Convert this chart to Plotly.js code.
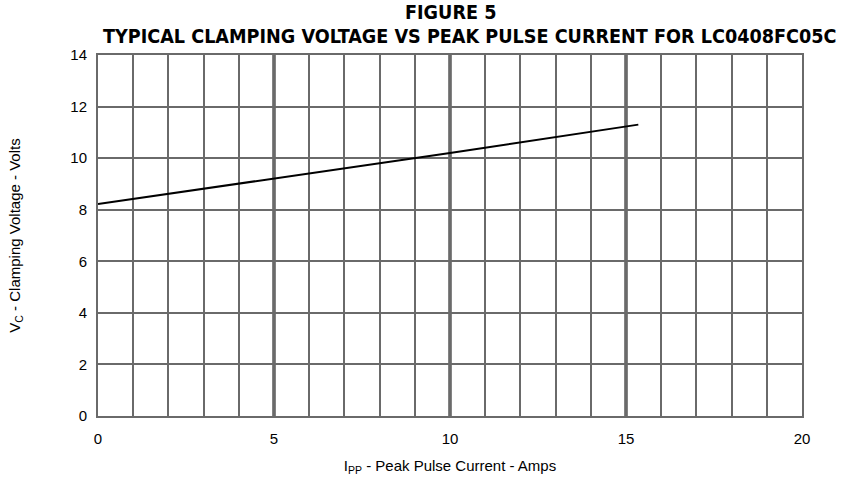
<!DOCTYPE html>
<html><head><meta charset="utf-8">
<script src="https://cdn.plot.ly/plotly-3.0.1.min.js"></script>
<style>html,body{margin:0;padding:0;background:#fff}#c{width:853px;height:481px}</style>
</head><body><div id="c"></div>
<script>
const currentAmps = [0, 5, 10, 15.35];
const clampVolts = [8.22, 9.2, 10.2, 11.3];
const xTicks = [0, 5, 10, 15, 20];
const yTicks = [0, 2, 4, 6, 8, 10, 12, 14];
const majorX = [5, 10, 15];
const titleLines = ['FIGURE 5', 'TYPICAL CLAMPING VOLTAGE VS PEAK PULSE CURRENT FOR LC0408FC05C'];

const shapes = majorX.map(v => ({type:'line', xref:'x', yref:'paper', x0:v, x1:v, y0:0, y1:1, line:{color:'#5a5a5a', width:3.5}, layer:'below'}));
const titleFont = {family:'DejaVu Sans Condensed, Liberation Sans Narrow, Liberation Sans, sans-serif', size:19.6, color:'#000'};

Plotly.newPlot('c', [{
  x: currentAmps, y: clampVolts, type:'scatter', mode:'lines',
  line:{color:'#000', width:2}, hoverinfo:'skip'
}], {
  width:853, height:481,
  margin:{l:98, r:51, t:55, b:65},
  paper_bgcolor:'#fff', plot_bgcolor:'#fff',
  showlegend:false,
  font:{family:'Liberation Sans, Arial, sans-serif', color:'#000', size:15},
  annotations:[
    {text:'<b>'+titleLines[0]+'</b>', xref:'paper', yref:'paper', x:0.5, y:1.0, yshift:56, xanchor:'center', yanchor:'top', showarrow:false, font:titleFont},
    {text:'<b>'+titleLines[1]+'</b>', xref:'paper', yref:'paper', x:0.527, y:1.0, yshift:32, xanchor:'center', yanchor:'top', showarrow:false, font:titleFont}
  ],
  xaxis:{range:[0,20], tickvals:xTicks, ticks:'', showgrid:false,
    minor:{dtick:1, tick0:0, showgrid:true, gridcolor:'#6a6a6a', gridwidth:2, ticks:''},
    showline:true, linecolor:'#6a6a6a', linewidth:2, mirror:true, zeroline:false,
    ticklabelstandoff:8, tickfont:{size:15},
    title:{text:'I<sub>PP</sub> - Peak Pulse Current - Amps', font:{size:15}, standoff:14}},
  yaxis:{range:[0,14], tickvals:yTicks, ticks:'', showgrid:true, gridcolor:'#6a6a6a', gridwidth:2,
    showline:true, linecolor:'#6a6a6a', linewidth:2, mirror:true, zeroline:false,
    ticklabelstandoff:6, tickfont:{size:15},
    title:{text:'V<sub>C</sub> - Clamping Voltage - Volts', font:{size:15}, standoff:46}},
  shapes: shapes
}, {staticPlot:true});
</script></body></html>
